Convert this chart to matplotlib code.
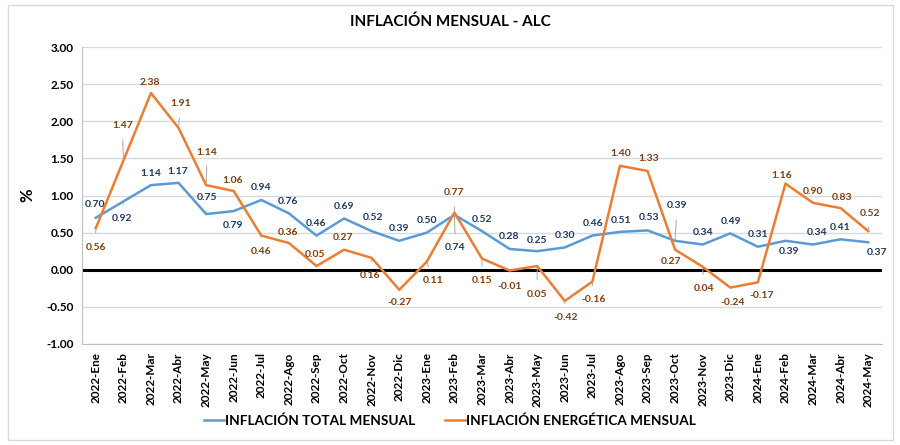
import matplotlib
matplotlib.use("Agg")
import matplotlib.pyplot as plt
from matplotlib.patches import Rectangle

plt.rcParams['font.family'] = ['Lato', 'DejaVu Sans']

months = ["2022-Ene", "2022-Feb", "2022-Mar", "2022-Abr", "2022-May", "2022-Jun", "2022-Jul",
          "2022-Ago", "2022-Sep", "2022-Oct", "2022-Nov", "2022-Dic", "2023-Ene", "2023-Feb",
          "2023-Mar", "2023-Abr", "2023-May", "2023-Jun", "2023-Jul", "2023-Ago", "2023-Sep",
          "2023-Oct", "2023-Nov", "2023-Dic", "2024-Ene", "2024-Feb", "2024-Mar", "2024-Abr",
          "2024-May"]
total = [0.70, 0.92, 1.14, 1.17, 0.75, 0.79, 0.94, 0.76, 0.46, 0.69, 0.52, 0.39, 0.50, 0.74,
         0.52, 0.28, 0.25, 0.30, 0.46, 0.51, 0.53, 0.39, 0.34, 0.49, 0.31, 0.39, 0.34, 0.41, 0.37]
energia = [0.56, 1.47, 2.38, 1.91, 1.14, 1.06, 0.46, 0.36, 0.05, 0.27, 0.16, -0.27, 0.11, 0.77,
           0.15, -0.01, 0.05, -0.42, -0.16, 1.40, 1.33, 0.27, 0.04, -0.24, -0.17, 1.16, 0.90,
           0.83, 0.52]

# label offsets in pixels (dx, dy; dy positive = up)
total_off = [(-1, 13), (-1, -17), (0, 12), (-1, 11), (1, 17), (-1, -14), (0, 12), (-1, 12),
             (0, 12), (0, 12), (1, 14), (0, 12), (0, 12), (1, -33), (0, 12), (-1, 12), (0, 11),
             (0, 12), (1, 12), (1, 11), (1, 13), (2, 35), (0, 12), (1, 12), (0, 12), (4, -11),
             (4, 12), (0, 12), (9, -10)]
energia_off = [(0, -19), (-1, 35), (-1, 11), (2, 24), (1, 33), (-1, 11), (0, -16), (-1, 11),
               (-1, 12), (-1, 12), (-2, -18), (0, -13), (6, -19), (0, 20), (0, -22), (0, -16),
               (0, -28), (1, -17), (1, -18), (1, 12), (1, 12), (-4, -12), (1, -22), (2, -15),
               (4, -13), (-4, 8), (0, 11), (1, 11), (2, 18)]

fig = plt.figure(figsize=(9, 4.45), dpi=100)
fig.patches.append(Rectangle((8 / 900, 1 - 440 / 445), 885 / 900, 435 / 445,
                             transform=fig.transFigure, fill=False, edgecolor='#D9D9D9', lw=1))
ax = fig.add_axes([82 / 900, 1 - 344 / 445, 800 / 900, 297 / 445])

blue = '#5B9BD5'
orange = '#ED7D31'
x = list(range(len(months)))
ax.axhline(0, color='black', lw=2.2, zorder=2)
ax.plot(x, total, color=blue, lw=1.8, zorder=3, label='INFLACIÓN TOTAL MENSUAL')
ax.plot(x, energia, color=orange, lw=1.8, zorder=3, label='INFLACIÓN ENERGÉTICA MENSUAL')

ax.set_xlim(-0.5, len(months) - 0.5)
ax.set_ylim(-1.0, 3.0)
ax.set_yticks([-1.0, -0.5, 0.0, 0.5, 1.0, 1.5, 2.0, 2.5, 3.0])
ax.set_yticklabels([f"{v:.2f}" for v in ax.get_yticks()], fontsize=8.5, fontweight='bold')
ax.set_xticks(x)
ax.set_xticklabels(months, rotation=90, fontsize=8.5, fontweight='bold')
ax.tick_params(length=0, pad=6)
ax.grid(axis='y', color='#D9D9D9', lw=1)
ax.set_axisbelow(True)
for s in ['top', 'right']:
    ax.spines[s].set_visible(False)
for s in ['left', 'bottom']:
    ax.spines[s].set_color('#BFBFBF')
ax.set_ylabel('%', fontsize=12, fontweight='bold', labelpad=8)


def add_labels(vals, offs, color):
    for i, (v, (dx, dy)) in enumerate(zip(vals, offs)):
        lead = abs(dy) > 15
        ax.annotate(f"{v:.2f}", xy=(i, v), xytext=(dx, dy), textcoords='offset pixels',
                    ha='center', va='center', fontsize=7.5, fontweight='bold', color=color,
                    zorder=5,
                    arrowprops=dict(arrowstyle='-', color='#A6A6A6', lw=0.7,
                                    shrinkA=5, shrinkB=1) if lead else None)


add_labels(total, total_off, '#1F3864')
add_labels(energia, energia_off, '#843C0C')

fig.text(0.5, 1 - 22 / 445, 'INFLACIÓN MENSUAL - ALC', ha='center', va='center',
         fontsize=11, fontweight='bold')
leg = fig.legend(loc='center', bbox_to_anchor=(0.5, 1 - 421 / 445), ncol=2, frameon=False,
                 prop={'size': 9.8, 'weight': 'bold'}, handlelength=1.5, handletextpad=0.05,
                 columnspacing=2.2)

fig.savefig('out.png', dpi=100)
